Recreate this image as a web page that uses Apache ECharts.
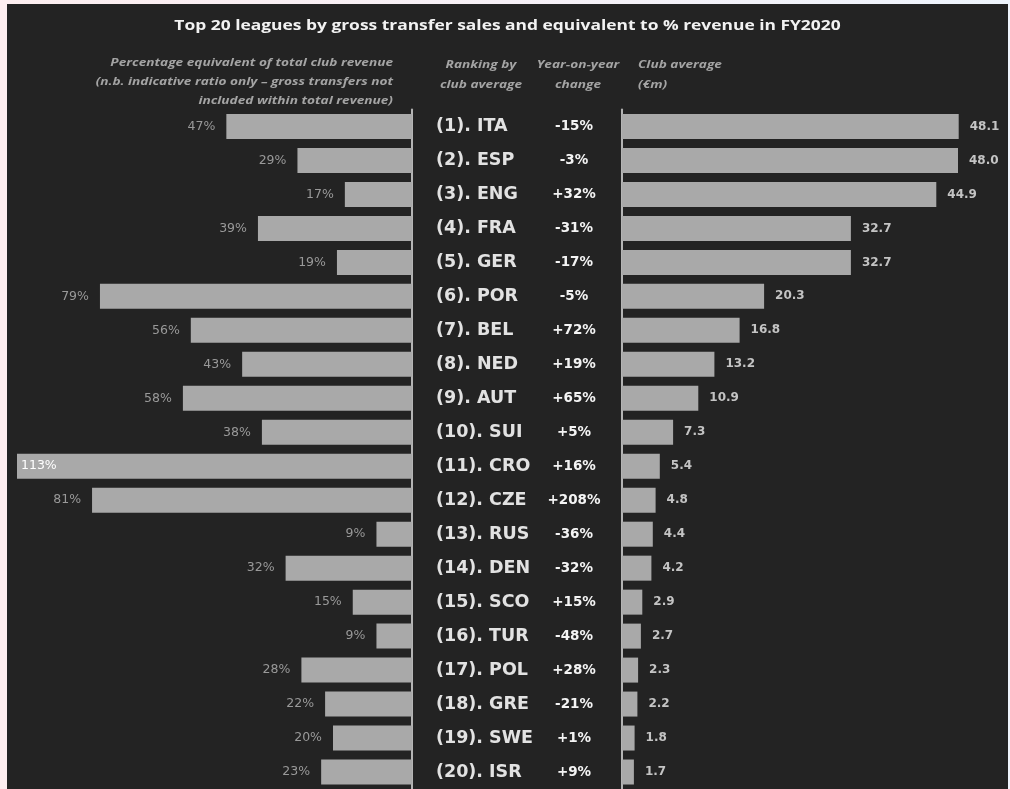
<!DOCTYPE html>
<html>
<head>
<meta charset="utf-8">
<script src="https://cdn.jsdelivr.net/npm/echarts@6/dist/echarts.min.js"></script>
<style>
  html, body { margin: 0; padding: 0; width: 1010px; height: 789px; overflow: hidden;
    background: linear-gradient(90deg, #fdeef0 0%, #f6f0f6 50%, #eef4fc 100%); }
  #chart { position: absolute; left: 7px; top: 4px; width: 1001px; height: 785px; }
</style>
</head>
<body>
<div id="chart"></div>
<script>
const leagues = ['ITA','ESP','ENG','FRA','GER','POR','BEL','NED','AUT','SUI','CRO','CZE','RUS','DEN','SCO','TUR','POL','GRE','SWE','ISR'];
const ranks = [1,2,3,4,5,6,7,8,9,10,11,12,13,14,15,16,17,18,19,20];
const revenuePct = [47,29,17,39,19,79,56,43,58,38,113,81,9,32,15,9,28,22,20,23];
const yoyChange = ['-15%','-3%','+32%','-31%','-17%','-5%','+72%','+19%','+65%','+5%','+16%','+208%','-36%','-32%','+15%','-48%','+28%','-21%','+1%','+9%'];
const clubAverage = [48.1,48.0,44.9,32.7,32.7,20.3,16.8,13.2,10.9,7.3,5.4,4.8,4.4,4.2,2.9,2.7,2.3,2.2,1.8,1.7];
const pctAxisMax = 100;
const avgAxisMax = 50;

const FONT = '"Open Sans", "Noto Sans", sans-serif';
const WIDE = '"DejaVu Sans", sans-serif';
const BAR = '#a9a9a9';
const HDR = '#a4a4a4';
const chart = echarts.init(document.getElementById('chart'));

const leftData = revenuePct.map(v => v > pctAxisMax
  ? { value: v, label: { position: 'insideLeft', distance: 4, color: '#ffffff' } }
  : v);

chart.setOption({
  backgroundColor: '#232323',
  animation: false,
  grid: [
    { left: 10, width: 395, top: 105.5, height: 680 },
    { left: 615, width: 350, top: 105.5, height: 680 }
  ],
  xAxis: [
    { gridIndex: 0, type: 'value', min: 0, max: pctAxisMax, inverse: true, show: false },
    { gridIndex: 1, type: 'value', min: 0, max: avgAxisMax, show: false }
  ],
  yAxis: [
    { gridIndex: 0, type: 'category', data: leagues, inverse: true, position: 'right',
      axisLine: { show: true, lineStyle: { color: '#b4b4b4', width: 2 } },
      axisTick: { show: false }, splitLine: { show: false },
      axisLabel: {
        margin: 24, align: 'left',
        formatter: (val, idx) => `{n|(${ranks[idx]}). ${val}}{y|${yoyChange[idx]}}`,
        rich: {
          n: { width: 108, fontSize: 17.5, fontWeight: 'bold', color: '#e2e2e2', fontFamily: WIDE },
          y: { width: 60, align: 'center', fontSize: 13.5, fontWeight: 'bold', color: '#f4f4f4', fontFamily: WIDE }
        }
      }
    },
    { gridIndex: 1, type: 'category', data: leagues, inverse: true,
      axisLine: { show: true, lineStyle: { color: '#b4b4b4', width: 2 } },
      axisTick: { show: false }, axisLabel: { show: false }, splitLine: { show: false }
    }
  ],
  series: [
    { type: 'bar', xAxisIndex: 0, yAxisIndex: 0, data: leftData, barWidth: 25,
      itemStyle: { color: BAR },
      label: { show: true, position: 'left', distance: 11, formatter: p => p.value + '%',
        color: '#999999', fontSize: 12.5, fontFamily: WIDE } },
    { type: 'bar', xAxisIndex: 1, yAxisIndex: 1, data: clubAverage, barWidth: 25,
      itemStyle: { color: BAR },
      label: { show: true, position: 'right', distance: 11, formatter: p => p.value.toFixed(1),
        color: '#c4c4c4', fontSize: 12, fontWeight: 'bold', fontFamily: WIDE } }
  ],
  graphic: [
    { type: 'text', x: 500.5, y: 22, scaleX: 1.16,
      style: { text: 'Top 20 leagues by gross transfer sales and equivalent to % revenue in FY2020',
        align: 'center', verticalAlign: 'middle',
        fill: '#f2f2f2', font: `bold 15px ${FONT}` } },
    { type: 'text', x: 386, y: 49.5, scaleX: 1.3,
      style: { text: 'Percentage equivalent of total club revenue\n(n.b. indicative ratio only \u2013 gross transfers not\nincluded within total revenue)',
        align: 'right', verticalAlign: 'top', lineHeight: 19,
        fill: HDR, font: `italic bold 10.5px ${FONT}` } },
    { type: 'text', x: 474, y: 51, scaleX: 1.3,
      style: { text: 'Ranking by\nclub average', align: 'center', verticalAlign: 'top', lineHeight: 20,
        fill: HDR, font: `italic bold 10.5px ${FONT}` } },
    { type: 'text', x: 571, y: 51, scaleX: 1.3,
      style: { text: 'Year-on-year\nchange', align: 'center', verticalAlign: 'top', lineHeight: 20,
        fill: HDR, font: `italic bold 10.5px ${FONT}` } },
    { type: 'text', x: 631, y: 51, scaleX: 1.3,
      style: { text: 'Club average\n(\u20acm)', align: 'left', verticalAlign: 'top', lineHeight: 20,
        fill: HDR, font: `italic bold 10.5px ${FONT}` } }
  ]
});
</script>
</body>
</html>
